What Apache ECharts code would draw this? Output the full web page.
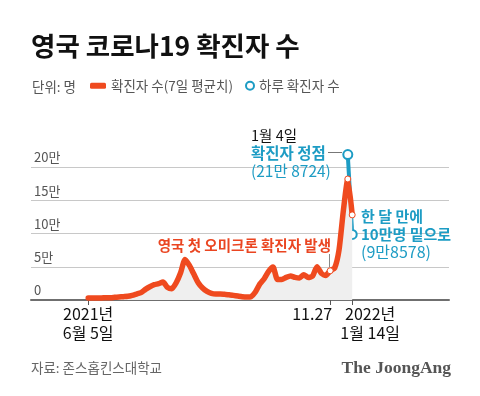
<!DOCTYPE html>
<html>
<head>
<meta charset="utf-8">
<script src="https://cdn.jsdelivr.net/npm/echarts@6/dist/echarts.min.js"></script>
<style>
  html, body { margin: 0; padding: 0; background: #fff; }
  #chart { width: 480px; height: 396px; }
</style>
</head>
<body>
<div id="chart"></div>
<script>
// x positions are category slots; the line starts at slot 13
const slotCount = 96;
const startIdx = 13;
// 7-day average of confirmed cases, slot 13 (2021.6.5) .. slot 73 (2022.1.14)
const avgCases = [
  3000, 3000, 3000, 3000, 3500, 3500, 4000, 4500, 5000, 5500,
  7000, 9000, 11000, 16000, 20000, 23000, 24500, 27000, 19000, 17000,
  26000, 41000, 61000, 52000, 39000, 26000, 18000, 13000, 10000, 9000,
  9000, 8500, 8000, 7000, 6000, 5000, 4500, 5000, 12000, 24000,
  32000, 43000, 49500, 31000, 31000, 34000, 36000, 34000, 33000, 38000,
  34000, 36000, 50000, 40000, 37000, 44000, 48000, 75000, 135000, 182000,
  128000
];
// daily confirmed cases: 1월 4일 peak and 1월 14일
const dailyIdx = [72, 73];
const dailyCases = [218724, 98578];
// white dots on the average line (11.27, peak, last day)
const dotIdx = [68, 72, 73];
// date labels under the axis (two label rows kept on separate axes so they don't hide each other)
const xLabelsMain = {
  13: '{c|2021년}\n{c|6월 5일}',
  73: '{r|2022년}\n{r|1월 14일}'
};
const xLabelsMid = {
  68: '{l|11.27}'
};
const yTicks = [0, 50000, 100000, 150000, 200000];

const RED = '#ef4a1f';
const TEAL = '#1d9cc4';
const FONT = '"Noto Sans CJK KR", "Noto Sans", sans-serif';

const cats = [];
for (let i = 0; i < slotCount; i++) cats.push(String(i));

const avgData = [];
for (let i = 0; i < slotCount; i++) {
  const k = i - startIdx;
  let v = (k >= 0 && k < avgCases.length) ? avgCases[k] : null;
  if (v !== null && dotIdx.indexOf(i) >= 0) {
    avgData.push({
      value: v,
      symbol: 'circle',
      symbolSize: 6,
      itemStyle: { color: '#fff', borderColor: RED, borderWidth: 1 }
    });
  } else {
    avgData.push(v);
  }
}
const dailyData = [];
for (let i = 0; i < slotCount; i++) {
  const k = dailyIdx.indexOf(i);
  dailyData.push(k >= 0 ? dailyCases[k] : null);
}

const labelRich = {
  c: { fontFamily: FONT, fontSize: 16, lineHeight: 19, color: '#111' },
  l: { fontFamily: FONT, fontSize: 16, lineHeight: 19, color: '#111', padding: [0, 36, 0, 0] },
  r: { fontFamily: FONT, fontSize: 16, lineHeight: 19, color: '#111', padding: [0, 0, 0, 36] }
};

function dateAxis(labels, showLine) {
  return {
    type: 'category',
    data: cats,
    boundaryGap: false,
    position: 'bottom',
    axisLine: { show: showLine, lineStyle: { color: '#6f6f6f', width: 2 } },
    axisTick: {
      interval: (i) => labels[i] !== undefined,
      length: 5,
      lineStyle: { color: '#555' }
    },
    axisLabel: {
      interval: (i) => labels[i] !== undefined,
      hideOverlap: false,
      formatter: (v, i) => labels[i] || '',
      margin: 4,
      verticalAlign: 'top',
      rich: labelRich
    },
    splitLine: { show: false }
  };
}

const chart = echarts.init(document.getElementById('chart'));
const option = {
  animation: false,
  backgroundColor: '#fff',
  textStyle: { fontFamily: FONT },
  title: {
    text: '영국 코로나19 확진자 수',
    left: 31,
    top: 33,
    padding: 0,
    textStyle: { fontFamily: FONT, fontSize: 26.5, fontWeight: 'bold', color: '#111' }
  },
  legend: [
    {
      left: 90,
      top: 79,
      padding: 0,
      itemWidth: 16,
      itemHeight: 6,
      itemGap: 5,
      textStyle: { fontFamily: FONT, fontSize: 13.5, color: '#555' },
      data: [{ name: '확진자 수(7일 평균치)', icon: 'roundRect' }]
    },
    {
      left: 245,
      top: 79,
      padding: 0,
      itemWidth: 8,
      itemHeight: 8,
      textStyle: { fontFamily: FONT, fontSize: 13.5, color: '#555' },
      data: [{
        name: '하루 확진자 수',
        icon: 'circle',
        itemStyle: { color: '#fff', borderColor: TEAL, borderWidth: 2 }
      }]
    }
  ],
  grid: { left: 31, right: 31, top: 167, bottom: 96 },
  xAxis: [dateAxis(xLabelsMain, true), dateAxis(xLabelsMid, false)],
  yAxis: {
    type: 'value',
    min: 0,
    max: 200000,
    interval: 50000,
    axisLine: { show: false },
    axisTick: { show: false },
    axisLabel: {
      inside: true,
      margin: 3,
      verticalAlign: 'bottom',
      padding: [0, 0, 3, 0],
      color: '#555',
      fontSize: 13,
      fontFamily: FONT,
      formatter: (v) => yTicks.indexOf(v) < 0 ? '' : (v === 0 ? '0' : (v / 10000) + '만')
    },
    splitLine: { lineStyle: { color: '#c8c8c8', width: 1 } }
  },
  series: [
    {
      name: '하루 확진자 수',
      type: 'line',
      data: dailyData,
      connectNulls: false,
      clip: false,
      symbol: 'circle',
      symbolSize: 9,
      showAllSymbol: true,
      color: TEAL,
      lineStyle: { color: TEAL, width: 4 },
      itemStyle: { color: '#fff', borderColor: TEAL, borderWidth: 2 },
      z: 2
    },
    {
      name: '확진자 수(7일 평균치)',
      type: 'line',
      data: avgData,
      clip: false,
      symbol: 'none',
      showSymbol: true,
      showAllSymbol: true,
      color: RED,
      smooth: 0.2,
      lineStyle: { color: RED, width: 5.5, join: 'round', cap: 'round' },
      areaStyle: { color: '#efefef', opacity: 1 },
      z: 3
    }
  ],
  graphic: [
    { type: 'text', style: { text: '단위: 명', x: 32, y: 87, fill: '#555', font: '13.5px ' + FONT, verticalAlign: 'middle' } },
    { type: 'text', z: 10, style: { text: '영국 첫 오미크론 확진자 발생', x: 331, y: 245, align: 'right', fill: '#ea4521', font: 'bold 14.5px ' + FONT, verticalAlign: 'middle' } },
    { type: 'line', z: 10, shape: { x1: 329.5, y1: 254, x2: 329.5, y2: 267 }, style: { stroke: '#888', lineWidth: 1 } },
    { type: 'text', z: 10, style: { text: '1월 4일', x: 251, y: 135, fill: '#111', font: '14.5px ' + FONT, verticalAlign: 'middle' } },
    { type: 'text', z: 10, style: { text: '확진자 정점', x: 251, y: 153, fill: TEAL, font: 'bold 15.5px ' + FONT, verticalAlign: 'middle' } },
    { type: 'line', z: 10, shape: { x1: 328, y1: 152.5, x2: 342, y2: 152.5 }, style: { stroke: '#777', lineWidth: 1 } },
    { type: 'text', z: 10, style: { text: '(21만 8724)', x: 251, y: 171, fill: TEAL, font: '15.5px ' + FONT, verticalAlign: 'middle' } },
    { type: 'text', z: 10, style: { text: '한 달 만에', x: 361, y: 216, fill: TEAL, font: 'bold 15px ' + FONT, verticalAlign: 'middle' } },
    { type: 'text', z: 10, style: { text: '10만명 밑으로', x: 361, y: 234, fill: TEAL, font: 'bold 15px ' + FONT, verticalAlign: 'middle' } },
    { type: 'text', z: 10, style: { text: '(9만8578)', x: 361, y: 252, fill: TEAL, font: '16px ' + FONT, verticalAlign: 'middle' } },
    { type: 'text', style: { text: '자료: 존스홉킨스대학교', x: 31, y: 368, fill: '#666', font: '13.5px ' + FONT, verticalAlign: 'middle' } },
    { type: 'text', style: { text: 'The JoongAng', x: 451, y: 368, align: 'right', fill: '#555', font: 'bold 17.5px "Liberation Serif", "DejaVu Serif", serif', verticalAlign: 'middle' } }
  ]
};
chart.setOption(option);
</script>
</body>
</html>
